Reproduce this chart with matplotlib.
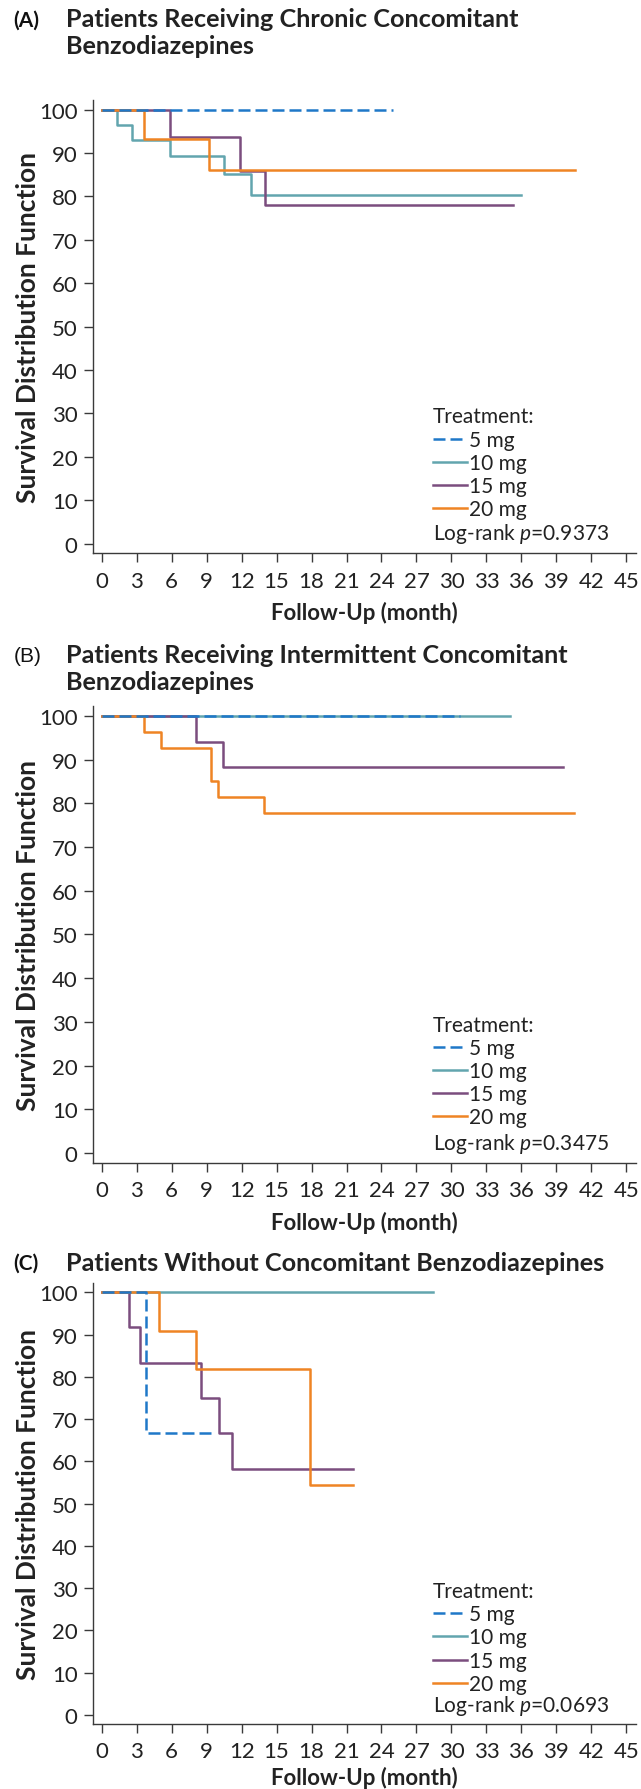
import matplotlib
matplotlib.use("Agg")
import matplotlib.pyplot as plt
from matplotlib.lines import Line2D

plt.rcParams['font.family'] = ['Lato', 'DejaVu Sans']
plt.rcParams['mathtext.fontset'] = 'custom'
plt.rcParams['mathtext.it'] = 'Lato:italic'
plt.rcParams['mathtext.rm'] = 'Lato'

# treatment groups
groups = ['5 mg', '10 mg', '15 mg', '20 mg']
colors = ['#1f78c8', '#62a5ae', '#7b4d7e', '#ef8424']

# (A) chronic concomitant benzodiazepines
a_5_t = [0, 25.0]
a_5_s = [100, 100]
a_10_t = [0, 1.3, 2.6, 5.9, 10.5, 12.8, 36.0]
a_10_s = [100, 96.4, 92.9, 89.3, 85.2, 80.3, 80.3]
a_15_t = [0, 5.9, 11.9, 14.0, 35.3]
a_15_s = [100, 93.8, 85.9, 78.1, 78.1]
a_20_t = [0, 3.6, 9.2, 40.6]
a_20_s = [100, 93.3, 86.2, 86.2]

# (B) intermittent concomitant benzodiazepines
b_5_t = [0, 30.7]
b_5_s = [100, 100]
b_10_t = [0, 35.0]
b_10_s = [100, 100]
b_15_t = [0, 8.1, 10.4, 39.6]
b_15_s = [100, 94.1, 88.2, 88.2]
b_20_t = [0, 3.6, 5.1, 9.4, 10.0, 13.9, 40.5]
b_20_s = [100, 96.3, 92.6, 85.2, 81.5, 77.8, 77.8]

# (C) without concomitant benzodiazepines
c_5_t = [0, 3.8, 9.6]
c_5_s = [100, 66.7, 66.7]
c_10_t = [0, 28.4]
c_10_s = [100, 100]
c_15_t = [0, 2.3, 3.3, 8.5, 10.1, 11.2, 21.6]
c_15_s = [100, 91.7, 83.3, 75.0, 66.7, 58.3, 58.3]
c_20_t = [0, 4.9, 8.1, 17.9, 21.6]
c_20_s = [100, 90.9, 81.8, 54.5, 54.5]

panel_tags = ['(A)', '(B)', '(C)']
panel_titles = ['Patients Receiving Chronic Concomitant\nBenzodiazepines',
                'Patients Receiving Intermittent Concomitant\nBenzodiazepines',
                'Patients Without Concomitant Benzodiazepines']
p_values = ['0.9373', '0.3475', '0.0693']
x_ticks = list(range(0, 46, 3))
y_ticks = list(range(0, 101, 10))

curves = [
    [(a_10_t, a_10_s), (a_15_t, a_15_s), (a_20_t, a_20_s), (a_5_t, a_5_s)],
    [(b_10_t, b_10_s), (b_15_t, b_15_s), (b_20_t, b_20_s), (b_5_t, b_5_s)],
    [(c_10_t, c_10_s), (c_15_t, c_15_s), (c_20_t, c_20_s), (c_5_t, c_5_s)],
]
draw_order = [1, 2, 3, 0]

# layout in figure fractions (bottom, height), title tops / tag centres / xlabel gap in px
ax_rects = [(0.6904, 0.2531), (0.3499, 0.2550), (0.0363, 0.2463)]
title_top = [8, 644, 1252]
tag_mid = [21, 656, 1264]
xlab_gap = [48, 48, 42]

W, H = 641, 1790
fig = plt.figure(figsize=(W / 100, H / 100), dpi=100)
axis_col = '#3a3a3a'
text_col = '#222222'
dash = (0, (4.8, 2.0))

for i in range(3):
    bottom, height = ax_rects[i]
    ax = fig.add_axes([0.145, bottom, 0.8466, height])
    for k, (t, s) in zip(draw_order, curves[i]):
        ls = dash if k == 0 else '-'
        ax.step(t, s, where='post', color=colors[k], lw=1.8, linestyle=ls)

    ax.set_xlim(-0.75, 45.8)
    ax.set_ylim(-2.2, 102.2)
    ax.set_xticks(x_ticks)
    ax.set_yticks(y_ticks)
    ax.tick_params(labelsize=16, length=6.5, width=1, color=axis_col, pad=4.5,
                   labelcolor=text_col)
    ax.tick_params(axis='x', pad=6)
    for side in ['top', 'right']:
        ax.spines[side].set_visible(False)
    for side in ['left', 'bottom']:
        ax.spines[side].set_color(axis_col)
        ax.spines[side].set_linewidth(1)

    ax_h = height * H
    ax.set_ylabel('Survival Distribution Function', fontsize=19, fontweight='bold',
                  color=text_col)
    ax.yaxis.set_label_coords(-0.098, 0.5)
    ax.set_xlabel('Follow-Up (month)', fontsize=16, fontweight='bold', color=text_col)
    ax.xaxis.set_label_coords(0.5, -xlab_gap[i] / ax_h)

    handles = [Line2D([], [], color=colors[k], lw=1.8,
                      linestyle=dash if k == 0 else '-') for k in range(4)]
    leg = ax.legend(handles, groups, title='Treatment:', loc='upper left',
                    bbox_to_anchor=(0.626, 0.324), frameon=False, fontsize=15,
                    title_fontsize=15, handlelength=1.63, handletextpad=0.11,
                    handleheight=0.6, labelspacing=0.15, borderpad=0,
                    borderaxespad=0)
    leg._legend_box.align = 'left'
    for txt in leg.get_texts():
        txt.set_color(text_col)
    leg.get_title().set_color(text_col)
    ax.text(28.4, 2.4, 'Log-rank $p$=' + p_values[i], fontsize=15, va='center',
            color=text_col)

    tag_kw = dict(fontsize=15, fontweight='bold')
    if i == 1:
        tag_kw = dict(fontsize=15, family='Liberation Sans')
    fig.text(0.021, 1 - tag_mid[i] / H, panel_tags[i], va='center', color='#111111',
             **tag_kw)
    fig.text(0.103, 1 - title_top[i] / H, panel_titles[i], va='top', fontsize=18.2,
             fontweight='bold', color=text_col, linespacing=1.2)

fig.savefig('out.png', dpi=100)
